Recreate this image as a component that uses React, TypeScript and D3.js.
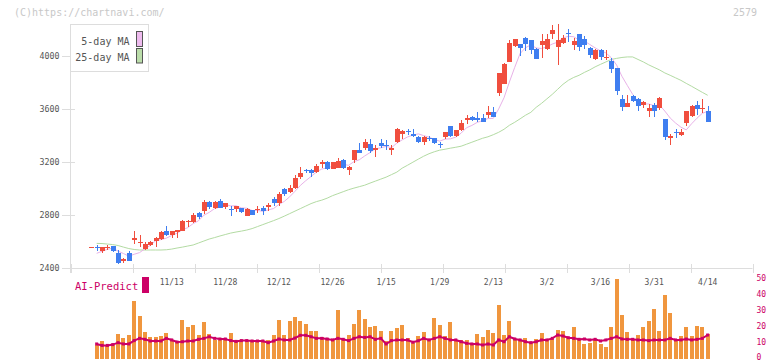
import React from 'react';
import * as d3 from 'd3';

const W = 772;
const H = 361;

const opens = [2555,2557,2528,2548,2566,2511,2453,2515,2611,2588,2543,2571,2606,2619,2679,2649,2674,2682,2752,2750,2813,2832,2896,2855,2906,2858,2845,2845,2850,2795,2838,2840,2855,2858,2921,2893,2994,2976,3006,3089,3140,3140,3125,3183,3202,3152,3157,3215,3140,3215,3290,3308,3336,3290,3348,3330,3290,3353,3416,3436,3413,3389,3353,3380,3383,3335,3391,3472,3398,3441,3517,3542,3537,3534,3555,3577,3726,3794,3957,4076,4091,4142,4121,4053,4083,4058,4166,4070,4101,4178,4083,4171,4128,4063,3977,4045,3993,3962,3912,3675,3617,3698,3680,3630,3587,3630,3610,3524,3383,3426,3409,3497,3550,3630,3603,3585];
const highs = [2557,2574,2556,2574,2570,2536,2473,2528,2679,2649,2598,2604,2636,2679,2717,2682,2690,2762,2762,2813,2820,2913,2905,2905,2920,2893,2868,2870,2855,2850,2840,2868,2868,2890,2936,2973,3004,3026,3100,3160,3148,3148,3185,3220,3210,3205,3232,3225,3168,3296,3346,3374,3374,3328,3378,3366,3328,3462,3443,3454,3454,3396,3401,3401,3386,3353,3431,3472,3441,3517,3555,3550,3580,3567,3622,3617,3874,3947,4121,4134,4091,4145,4121,4060,4166,4166,4234,4242,4164,4209,4138,4171,4153,4068,4058,4058,4045,3987,3912,3706,3706,3706,3685,3660,3643,3650,3690,3524,3416,3454,3454,3585,3635,3660,3675,3625];
const lows = [2555,2528,2515,2535,2523,2432,2435,2452,2581,2561,2536,2563,2561,2611,2645,2630,2630,2678,2712,2737,2767,2808,2843,2843,2850,2845,2795,2823,2815,2795,2800,2817,2800,2830,2870,2870,2943,2966,3001,3074,3118,3089,3115,3157,3140,3150,3155,3150,3100,3195,3270,3290,3270,3240,3305,3296,3253,3346,3378,3404,3393,3346,3331,3363,3336,3311,3378,3391,3391,3434,3492,3510,3505,3505,3537,3542,3698,3794,3957,4068,4000,4040,4020,3980,3987,4045,4134,3936,4090,4108,4045,4040,4058,3987,3970,3970,3970,3877,3706,3585,3617,3655,3585,3610,3542,3542,3595,3366,3328,3383,3401,3474,3542,3555,3575,3505];
const closes = [2557,2555,2556,2556,2530,2440,2465,2455,2629,2593,2581,2598,2629,2672,2649,2679,2687,2755,2757,2800,2787,2896,2863,2900,2855,2888,2841,2868,2820,2843,2802,2845,2832,2875,2893,2958,2958,3006,3084,3115,3136,3120,3170,3202,3152,3202,3207,3157,3164,3290,3273,3351,3285,3311,3323,3326,3306,3454,3436,3432,3396,3353,3389,3377,3346,3331,3429,3401,3441,3497,3534,3517,3517,3505,3577,3542,3872,3940,4100,4134,4063,4091,4050,3980,4113,4128,4196,4121,4142,4172,4113,4070,4083,4013,4045,3995,3998,3902,3736,3617,3650,3660,3623,3658,3610,3587,3687,3391,3396,3421,3429,3585,3623,3605,3607,3505];

// 5-day MA values read for the first days (before 5 closes are visible)
const ma5Lead = [2511, 2526, 2541];
// 25-day MA values, from the second day on
const ma25 = [2586,2585,2581,2577,2570,2558,2547,2540,2536,2536,2536,2536,2536,2538,2543,2551,2558,2566,2574,2589,2604,2619,2630,2642,2653,2664,2672,2679,2687,2698,2713,2728,2743,2758,2774,2792,2811,2830,2849,2868,2887,2902,2913,2928,2947,2962,2977,2992,3004,3015,3026,3042,3057,3072,3087,3106,3125,3155,3177,3200,3223,3245,3264,3279,3291,3298,3306,3313,3321,3336,3351,3366,3381,3392,3408,3426,3449,3479,3502,3528,3555,3577,3615,3645,3679,3713,3751,3789,3819,3841,3857,3879,3898,3921,3940,3958,3977,3985,3992,3996,3996,3977,3958,3936,3917,3898,3875,3857,3838,3819,3796,3774,3751,3728,3706];

const dateLabels = ['11/13','11/28','12/12','12/26','1/15','1/29','2/13','3/2','3/16','3/31','4/14'];
const priceTicks = [2400, 2800, 3200, 3600, 4000];

// AI-Predict panel, from the second day on
const aiBars = [8.75,11.25,8.75,8.75,15.6,13.1,15,36.25,26.9,16.9,13.75,13.75,14.4,16.5,11.9,11.25,24.4,20,21.25,15,23.1,15.6,11.9,11.9,13.1,16.5,11.9,11.25,11.25,11.9,11.25,10.6,11.9,15,24.4,15,23.75,26.25,23.75,21.9,17.5,17.5,13.75,13.1,11.9,30.6,11.9,15,21.9,30.6,25,20,20.6,17.5,11.25,17.5,19.4,21.25,13.1,10,14.6,16.9,11.9,25.6,21.25,14.4,23.1,11.9,11.9,11.9,9.4,15.6,13.75,18.1,16.5,33.75,15,23.75,12.7,11.9,12.9,10.2,12.5,16.25,12.5,12.3,18.1,17.5,13.9,20,11.9,9.4,10.2,11.9,9.4,7.5,20,50,27.5,16.9,11.9,15,20,23.75,31.25,17.5,40,28.75,11.9,14.6,20,14.4,20.6,20,15.6];
const aiLine = [9.4,8.5,8.5,9.0,10.2,9.4,9.4,11.5,12.9,12.3,11.25,11.25,11.25,12.9,11.9,10.6,10.8,11.25,11.25,12.3,12.9,13.9,12.9,12.5,12.5,11.5,11,11.5,11.5,11.25,11.25,11.25,10.2,11.25,12.5,11.9,11.9,13.1,14.8,14.8,13.9,12.9,12.9,12.5,11.9,12.9,12.3,11.5,12.9,13.9,13.5,13.9,12.3,12.9,9.4,11.5,11.9,11.9,11.9,10.5,11.4,12.9,11.9,12.9,13.9,12.9,11.9,11.9,10.8,9.8,9.4,9.4,8.75,9.4,8.75,11.9,10.8,13.9,12.5,11.9,10.8,10.2,10.8,11.9,11.9,12.9,15,14.4,13.3,12.9,12.3,12.5,11.9,12.3,11.25,11.9,12.9,13.9,12.5,12.3,12.3,11.9,11.9,11.5,11.9,11.9,11.9,12.9,11.9,11.9,12.5,11.9,12.3,12.9,15];
const aiTicks = [0, 10, 20, 30, 40, 50];

const UP = '#f04e3e';
const DOWN = '#3f7ef0';
const MA5C = '#e8b2e8';
const MA25C = '#b3dba3';
const AXIS = '#dddddd';
const LABEL = '#555555';
const AI = '#cc0066';
const BAR = '#f0963e';
const MONO = '"DejaVu Sans Mono", "Liberation Mono", monospace';

export default function App() {
  const n = closes.length;
  const x = d3.scaleLinear().domain([0, n - 1]).range([91.3, 707.7]);
  const y = d3.scaleLinear().domain([2400, 4000]).range([268, 56.4]);
  const yb = d3.scaleLinear().domain([0, 50]).range([359, 279]);
  const gridX = d3.scaleLinear().domain([0, 11]).range([70.5, 752.5]);

  const ma5: [number, number][] = [];
  for (let i = 1; i < n; i++) {
    const v = i < 4 ? ma5Lead[i - 1] : (d3.mean(closes.slice(i - 4, i + 1)) as number);
    ma5.push([x(i), y(v)]);
  }
  const ma25Pts: [number, number][] = ma25.map((v, k) => [x(k + 1), y(v)]);
  const line = d3.line<[number, number]>().x(d => d[0]).y(d => d[1]);

  const aiPts: [number, number][] = aiLine.map((v, k) => [x(k + 1), yb(v)]);

  return (
    <svg width={W} height={H} style={{ position: 'absolute', left: 0, top: 0, background: '#fff' }}
      xmlns="http://www.w3.org/2000/svg">
      <rect x={0} y={0} width={W} height={H} fill="#fff" />
      {/* watermark */}
      <text x={14} y={15.5} fontFamily={MONO} fontSize={10} fill="#c8c8c8">(C)https://chartnavi.com/</text>
      <text x={757} y={15.5} fontFamily={MONO} fontSize={10} fill="#c8c8c8" textAnchor="end">2579</text>

      {/* axes */}
      <line x1={70.5} x2={70.5} y1={24} y2={273} stroke={AXIS} />
      <line x1={70.5} x2={752.5} y1={268.5} y2={268.5} stroke={AXIS} />
      {d3.range(12).map(k => (
        <line key={'gx' + k} x1={Math.round(gridX(k)) + 0.5} x2={Math.round(gridX(k)) + 0.5} y1={264} y2={273} stroke={AXIS} />
      ))}
      {priceTicks.map(t => (
        <g key={'yt' + t}>
          <line x1={62} x2={75} y1={Math.round(y(t)) + 0.5} y2={Math.round(y(t)) + 0.5} stroke={AXIS} />
          <text x={59.5} y={y(t) + 3} fontFamily={MONO} fontSize={8.3} fill={LABEL} textAnchor="end">{t}</text>
        </g>
      ))}
      {dateLabels.map((lab, k) => {
        const idx = n - 1 - 10 * (dateLabels.length - 1 - k);
        return (
          <text key={'xl' + k} x={x(idx)} y={285} fontFamily={MONO} fontSize={8} fill={LABEL} textAnchor="middle">{lab}</text>
        );
      })}

      {/* moving averages */}
      <path d={line(ma25Pts) || ''} fill="none" stroke={MA25C} strokeWidth={1} />
      <path d={line(ma5) || ''} fill="none" stroke={MA5C} strokeWidth={1} />

      {/* candles */}
      {closes.map((c, i) => {
        const o = opens[i];
        const cx = Math.round(x(i));
        const up = c >= o;
        const col = up ? UP : DOWN;
        const top = y(Math.max(o, c));
        const bot = y(Math.min(o, c));
        const hgt = Math.max(1, bot - top);
        return (
          <g key={'c' + i} shapeRendering="crispEdges">
            <line x1={cx + 0.5} x2={cx + 0.5} y1={y(highs[i])} y2={y(lows[i])} stroke={col} strokeWidth={1} />
            <rect x={cx - 2} y={top} width={5} height={hgt} fill={col} />
          </g>
        );
      })}

      {/* legend */}
      <rect x={70.5} y={24.5} width={78} height={47} fill="#fff" stroke={AXIS} />
      <text x={129.5} y={44.5} fontFamily={MONO} fontSize={10} fill={LABEL} textAnchor="end">5-day MA</text>
      <text x={129.5} y={60.5} fontFamily={MONO} fontSize={10} fill={LABEL} textAnchor="end">25-day MA</text>
      <rect x={136.5} y={31.5} width={6} height={15} fill="#eebbee" stroke="#555" />
      <rect x={136.5} y={48.5} width={6} height={14.5} fill="#bbddaa" stroke="#555" />

      {/* AI-Predict panel */}
      <text x={75} y={290} fontFamily={MONO} fontSize={10.5} fill={AI}>AI-Predict</text>
      <rect x={142} y={277} width={7} height={16} fill={AI} />
      {aiBars.map((v, k) => {
        const cx = Math.round(x(k + 1));
        return <rect key={'b' + k} x={cx - 2} y={yb(v)} width={4} height={yb(0) - yb(v)} fill={BAR} shapeRendering="crispEdges" />;
      })}
      <path d={line(aiPts) || ''} fill="none" stroke={AI} strokeWidth={2} />
      {aiPts.map((p, k) => (
        <rect key={'m' + k} x={p[0] - 1.5} y={p[1] - 1.5} width={3} height={3} fill={AI} />
      ))}
      {aiTicks.map(t => (
        <text key={'at' + t} x={756.5} y={Math.min(yb(t) + 1.8, 359.5)} fontFamily={MONO} fontSize={8} fill={AI}>{t}</text>
      ))}
    </svg>
  );
}
